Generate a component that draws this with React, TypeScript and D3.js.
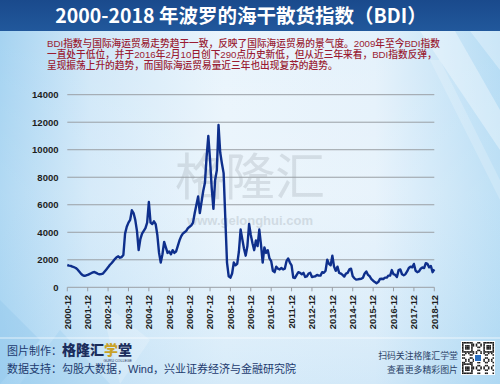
import React from "react";
import * as d3 from "d3";

// BDI monthly readings, starting 2000-12
const bdi2000: number[] = [1620];
const bdi2001: number[] = [1580, 1560, 1500, 1460, 1400, 1300, 1150, 1000, 880, 830, 860, 900];
const bdi2002: number[] = [960, 1020, 1080, 1110, 1050, 980, 950, 960, 1000, 1150, 1300, 1450];
const bdi2003: number[] = [1620, 1750, 1900, 2050, 2180, 2250, 2150, 2200, 2350, 3900, 4400, 4700];
const bdi2004: number[] = [4900, 5600, 5400, 4900, 4100, 2700, 3500, 3900, 4100, 4300, 4700, 6200];
const bdi2005: number[] = [4700, 4600, 4800, 4600, 3800, 2500, 1800, 2400, 3300, 2900, 2500, 2600];
const bdi2006: number[] = [2400, 2700, 2500, 2600, 3000, 3400, 3700, 3900, 4000, 4100, 4300, 4400];
const bdi2007: number[] = [4500, 4700, 5400, 6000, 6600, 5400, 6200, 7000, 7600, 9500, 11000, 9300];
const bdi2008: number[] = [7200, 5700, 7800, 8500, 11800, 9800, 9000, 8300, 5000, 1800, 800, 700];
const bdi2009: number[] = [1000, 1800, 1600, 1700, 2600, 4200, 3500, 2800, 2300, 3000, 4600, 3800];
const bdi2010: number[] = [3200, 2700, 3400, 3000, 4200, 3100, 1800, 2900, 2500, 2700, 2100, 1900];
const bdi2011: number[] = [1200, 1100, 1500, 1350, 1300, 1400, 1300, 1350, 1900, 2100, 1800, 1600];
const bdi2012: number[] = [700, 680, 900, 1100, 1050, 950, 1050, 750, 800, 1000, 1050, 750];
const bdi2013: number[] = [780, 800, 900, 850, 850, 1100, 1050, 1200, 2000, 1700, 1600, 2300];
const bdi2014: number[] = [1500, 1200, 1500, 1050, 1000, 900, 780, 1000, 1050, 1300, 1350, 800];
const bdi2015: number[] = [650, 560, 580, 600, 620, 700, 1000, 1150, 900, 800, 600, 480];
const bdi2016: number[] = [380, 300, 380, 600, 620, 600, 700, 700, 850, 850, 1250, 950];
const bdi2017: number[] = [900, 750, 1250, 1300, 950, 880, 950, 1150, 1400, 1500, 1450, 1700];
const bdi2018: number[] = [1200, 1100, 1150, 1350, 1450, 1400, 1750, 1700, 1450, 1550, 1100, 1300];

const bdiSeries: number[] = [
  ...bdi2000, ...bdi2001, ...bdi2002, ...bdi2003, ...bdi2004, ...bdi2005, ...bdi2006,
  ...bdi2007, ...bdi2008, ...bdi2009, ...bdi2010, ...bdi2011, ...bdi2012, ...bdi2013,
  ...bdi2014, ...bdi2015, ...bdi2016, ...bdi2017, ...bdi2018,
];

const xTickLabels: string[] = [
  "2000-12", "2001-12", "2002-12", "2003-12", "2004-12", "2005-12", "2006-12",
  "2007-12", "2008-12", "2009-12", "2010-12", "2011-12", "2012-12", "2013-12",
  "2014-12", "2015-12", "2016-12", "2017-12", "2018-12",
];
const yTicks: number[] = [0, 2000, 4000, 6000, 8000, 10000, 12000, 14000];

const titleText = "2000-2018 年波罗的海干散货指数（BDI）";
const descLines: string[] = [
  "BDI指数与国际海运贸易走势趋于一致，反映了国际海运贸易的景气度。2009年至今BDI指数",
  "一直处于低位，并于2016年2月10日创下290点历史新低，但从近三年来看，BDI指数反弹，",
  "呈现振荡上升的趋势，而国际海运贸易量近三年也出现复苏的趋势。",
];

const W = 500;
const H = 384;
const plot = { left: 67.3, right: 434.3, top: 94.7, bottom: 287.3 };

const CJK = "'Noto Sans CJK SC', 'Noto Sans', sans-serif";
const MIX = "'Liberation Sans', 'Noto Sans CJK SC', sans-serif";
const NUM = "'Liberation Sans', Arial, sans-serif";

function QRCode({ x, y, size }: { x: number; y: number; size: number }) {
  const n = 21;
  const m = size / n;
  const cells: JSX.Element[] = [];
  const isFinder = (i: number, j: number) => {
    const inBox = (a: number, b: number) => i >= a && i < a + 7 && j >= b && j < b + 7;
    return inBox(0, 0) || inBox(0, n - 7) || inBox(n - 7, 0);
  };
  for (let i = 0; i < n; i++) {
    for (let j = 0; j < n; j++) {
      let on = false;
      if (isFinder(i, j)) {
        const bi = i >= n - 7 ? i - (n - 7) : i;
        const bj = j >= n - 7 ? j - (n - 7) : j;
        const edge = bi === 0 || bi === 6 || bj === 0 || bj === 6;
        const core = bi >= 2 && bi <= 4 && bj >= 2 && bj <= 4;
        on = edge || core;
      } else {
        on = ((i * 7 + j * 11 + i * j) % 5) < 2;
      }
      if (on)
        cells.push(<rect key={`${i}-${j}`} x={x + j * m} y={y + i * m} width={m + 0.05} height={m + 0.05} fill="#1a1a1a" />);
    }
  }
  return (
    <g>
      <rect x={x - 1} y={y - 1} width={size + 2} height={size + 2} fill="#ffffff" />
      {cells}
      <rect x={x + size / 2 - 4} y={y + size / 2 - 4} width={8} height={8} fill="#ffffff" />
      <rect x={x + size / 2 - 3} y={y + size / 2 - 3} width={6} height={6} fill="#2a6fc0" />
    </g>
  );
}

export default function App() {
  const x = d3.scaleLinear().domain([0, bdiSeries.length - 1]).range([plot.left, plot.right]);
  const y = d3.scaleLinear().domain([0, 14000]).range([plot.bottom, plot.top]);
  const line = d3
    .line<number>()
    .x((_, i) => x(i))
    .y((d) => y(d))
    .curve(d3.curveLinear);
  const path = line(bdiSeries) || "";

  return (
    <svg
      width={W}
      height={H}
      viewBox={`0 0 ${W} ${H}`}
      style={{ position: "absolute", left: 0, top: 0, display: "block" }}
    >
      <defs>
        <linearGradient id="bg" x1="0" y1="0" x2="1" y2="0">
          <stop offset="0" stopColor="#a3d2f1" />
          <stop offset="0.18" stopColor="#cfe7f8" />
          <stop offset="0.45" stopColor="#e9f4fc" />
          <stop offset="0.75" stopColor="#e4f1fb" />
          <stop offset="1" stopColor="#b3dbf4" />
        </linearGradient>
        <linearGradient id="bgv" x1="0" y1="0" x2="0" y2="1">
          <stop offset="0" stopColor="#ffffff" stopOpacity="0.0" />
          <stop offset="0.5" stopColor="#ffffff" stopOpacity="0.15" />
          <stop offset="1" stopColor="#9fd0f0" stopOpacity="0.25" />
        </linearGradient>
        <linearGradient id="bar" x1="0" y1="0" x2="0" y2="1">
          <stop offset="0" stopColor="#1a4a8c" />
          <stop offset="1" stopColor="#21589c" />
        </linearGradient>
      </defs>

      <rect x={0} y={0} width={W} height={H} fill="url(#bg)" />
      <rect x={0} y={0} width={W} height={H} fill="url(#bgv)" />

      {/* decorative diagonal strips top-right */}
      <polygon points="420,31 455,31 500,110 500,150" fill="#ffffff" opacity={0.35} />
      <polygon points="470,31 500,31 500,70" fill="#ffffff" opacity={0.3} />
      <polygon points="440,60 500,180 500,200 430,60" fill="#ffffff" opacity={0.2} />
      {/* decorative shapes bottom-left */}
      <polygon points="0,300 40,340 0,384" fill="#8ec6ec" opacity={0.35} />
      <polygon points="60,330 110,384 20,384" fill="#8ec6ec" opacity={0.25} />
      <polygon points="100,300 150,340 120,384" fill="#ffffff" opacity={0.2} />

      {/* title bar */}
      <rect x={0} y={0} width={W} height={31} fill="url(#bar)" />
      <text
        x={241}
        y={23}
        textAnchor="middle"
        fill="#ffffff"
        fontFamily={CJK}
        fontWeight={700}
        fontSize={19.5}
      >
        {titleText}
      </text>

      {/* description */}
      {descLines.map((t, i) => (
        <text
          key={i}
          x={47}
          y={46.5 + i * 11}
          fill="#9a1c33"
          fontFamily={MIX}
          fontSize={9.7}
          fontWeight={500}
        >
          {t}
        </text>
      ))}

      {/* watermark */}
      <text x={250} y={195} textAnchor="middle" fontFamily={CJK} fontSize={50} fill="#9aa3ab" opacity={0.28}>
        格隆汇
      </text>
      <text x={250} y={225} textAnchor="middle" fontFamily={NUM} fontWeight={700} fontSize={13} fill="#9aa3ab" opacity={0.3}>
        www.gelonghui.com
      </text>

      {/* gridlines */}
      {yTicks.map((t) =>
        t === 0 ? null : (
          <line key={t} x1={plot.left} x2={plot.right} y1={y(t)} y2={y(t)} stroke="#9a9fa5" strokeWidth={1} />
        )
      )}
      {/* y labels */}
      {yTicks.map((t) => (
        <text
          key={`yl${t}`}
          x={58.5}
          y={y(t) + 3.3}
          textAnchor="end"
          fontFamily={NUM}
          fontWeight={700}
          fontSize={9.5}
          fill="#1e1e1e"
        >
          {t}
        </text>
      ))}

      {/* x axis */}
      <line x1={plot.left} x2={plot.right} y1={plot.bottom} y2={plot.bottom} stroke="#9a9fa5" strokeWidth={1} />
      {xTickLabels.map((lab, i) => {
        const xi = x(i * 12);
        return (
          <g key={lab}>
            <line x1={xi} x2={xi} y1={plot.bottom} y2={plot.bottom + 4} stroke="#9a9fa5" strokeWidth={1} />
            <text
              transform={`translate(${xi + 3.3},${295}) rotate(-90)`}
              textAnchor="end"
              fontFamily={NUM}
              fontWeight={700}
              fontSize={9.3}
              fill="#1e1e1e"
            >
              {lab}
            </text>
          </g>
        );
      })}

      {/* data line */}
      <path d={path} fill="none" stroke="#0e2f8c" strokeWidth={2.4} strokeLinejoin="round" />

      {/* footer */}
      <line x1={0} x2={W} y1={338} y2={338} stroke="#ffffff" strokeOpacity={0.7} strokeWidth={1} />
      <text x={7} y={355} fontFamily={MIX} fontSize={11} fill="#1d3a6e">
        图片制作：
      </text>
      <text x={62} y={355} fontFamily={MIX} fontSize={14} fontWeight={900} fill="#1b2d5c">
        格隆汇<tspan fill="#c9a227">学</tspan>堂
      </text>
      <text x={132} y={361.6} textAnchor="end" fontFamily={NUM} fontSize={3.6} fill="#1b2d5c">
        GURU COLLEGE
      </text>
      <text x={7} y={373} fontFamily={MIX} fontSize={11} fill="#1d3a6e">
        数据支持：勾股大数据，Wind，兴业证券经济与金融研究院
      </text>
      <text x={458} y={359} textAnchor="end" fontFamily={MIX} fontSize={8.9} fill="#2a3f66">
        扫码关注格隆汇学堂
      </text>
      <text x={458} y={373} textAnchor="end" fontFamily={MIX} fontSize={8.9} fill="#2a3f66">
        查看更多精彩图片
      </text>
      <QRCode x={462} y={342} size={32} />
    </svg>
  );
}
